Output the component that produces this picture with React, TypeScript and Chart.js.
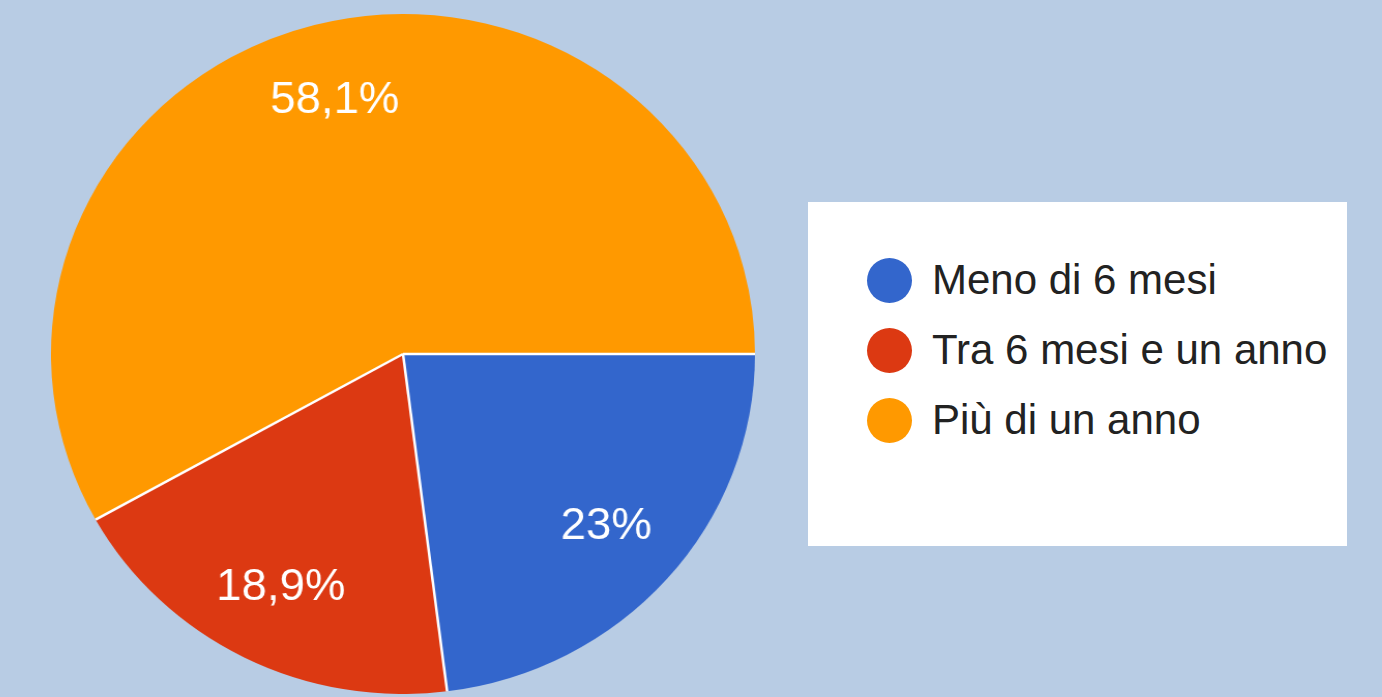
import React, { useEffect, useRef } from "react";
import { Chart, registerables } from "chart.js";

Chart.register(...registerables);

const categories: string[] = ["Meno di 6 mesi", "Tra 6 mesi e un anno", "Più di un anno"];
const shares: number[] = [23, 18.9, 58.1];
const sliceColors: string[] = ["#3366CC", "#DC3912", "#FF9900"];

const formatPct = (v: number) => v.toString().replace(".", ",") + "%";

const FONT = "Arial, 'Liberation Sans', sans-serif";

const separatorsAndLabels = {
  id: "separatorsAndLabels",
  afterDatasetsDraw(chart: any) {
    const meta = chart.getDatasetMeta(0);
    const ctx: CanvasRenderingContext2D = chart.ctx;
    ctx.save();
    ctx.strokeStyle = "#ffffff";
    ctx.lineWidth = 2.5;
    meta.data.forEach((arc: any) => {
      const { x, y, startAngle, outerRadius } = arc.getProps(["x", "y", "startAngle", "outerRadius"], true);
      ctx.beginPath();
      ctx.moveTo(x, y);
      ctx.lineTo(x + Math.cos(startAngle) * outerRadius, y + Math.sin(startAngle) * outerRadius);
      ctx.stroke();
    });
    ctx.fillStyle = "#ffffff";
    ctx.font = `44px ${FONT}`;
    ctx.textAlign = "center";
    ctx.textBaseline = "middle";
    meta.data.forEach((arc: any, i: number) => {
      const { x, y, startAngle, endAngle, outerRadius } = arc.getProps(
        ["x", "y", "startAngle", "endAngle", "outerRadius"],
        true
      );
      const mid = (startAngle + endAngle) / 2;
      const r = outerRadius * 0.77;
      ctx.fillText(formatPct(shares[i]), x + Math.cos(mid) * r, y + Math.sin(mid) * r);
    });
    ctx.restore();
  },
};

export default function App() {
  const canvasRef = useRef<HTMLCanvasElement | null>(null);

  useEffect(() => {
    if (!canvasRef.current) return;
    const chart = new Chart(canvasRef.current, {
      type: "pie",
      data: {
        labels: categories,
        datasets: [
          {
            data: shares,
            backgroundColor: sliceColors,
            borderWidth: 0,
          },
        ],
      },
      options: {
        animation: false,
        responsive: false,
        rotation: 90,
        layout: { padding: 0 },
        plugins: {
          legend: { display: false },
          tooltip: { enabled: false },
        },
      },
      plugins: [separatorsAndLabels],
    });
    return () => chart.destroy();
  }, []);

  return (
    <div
      style={{
        position: "fixed",
        left: 0,
        top: 0,
        width: 1382,
        height: 697,
        background: "#B8CCE4",
        overflow: "hidden",
        fontFamily: FONT,
      }}
    >
      <div
        style={{
          position: "absolute",
          left: 51,
          top: 14,
          width: 680,
          height: 680,
          transform: "scaleX(1.0353)",
          transformOrigin: "left top",
        }}
      >
        <canvas ref={canvasRef} width={680} height={680} />
      </div>
      <div
        style={{
          position: "absolute",
          left: 808,
          top: 202,
          width: 539,
          height: 344,
          background: "#ffffff",
        }}
      >
        {categories.map((c, i) => (
          <div
            key={c}
            style={{
              position: "absolute",
              left: 59,
              top: 55 + i * 70,
              height: 46,
              display: "flex",
              alignItems: "center",
              whiteSpace: "nowrap",
            }}
          >
            <span
              style={{
                display: "inline-block",
                width: 45,
                height: 45,
                borderRadius: "50%",
                background: sliceColors[i],
              }}
            />
            <span
              style={{
                marginLeft: 20,
                fontSize: 42,
                color: "#222222",
                lineHeight: "46px",
              }}
            >
              {c}
            </span>
          </div>
        ))}
      </div>
    </div>
  );
}
